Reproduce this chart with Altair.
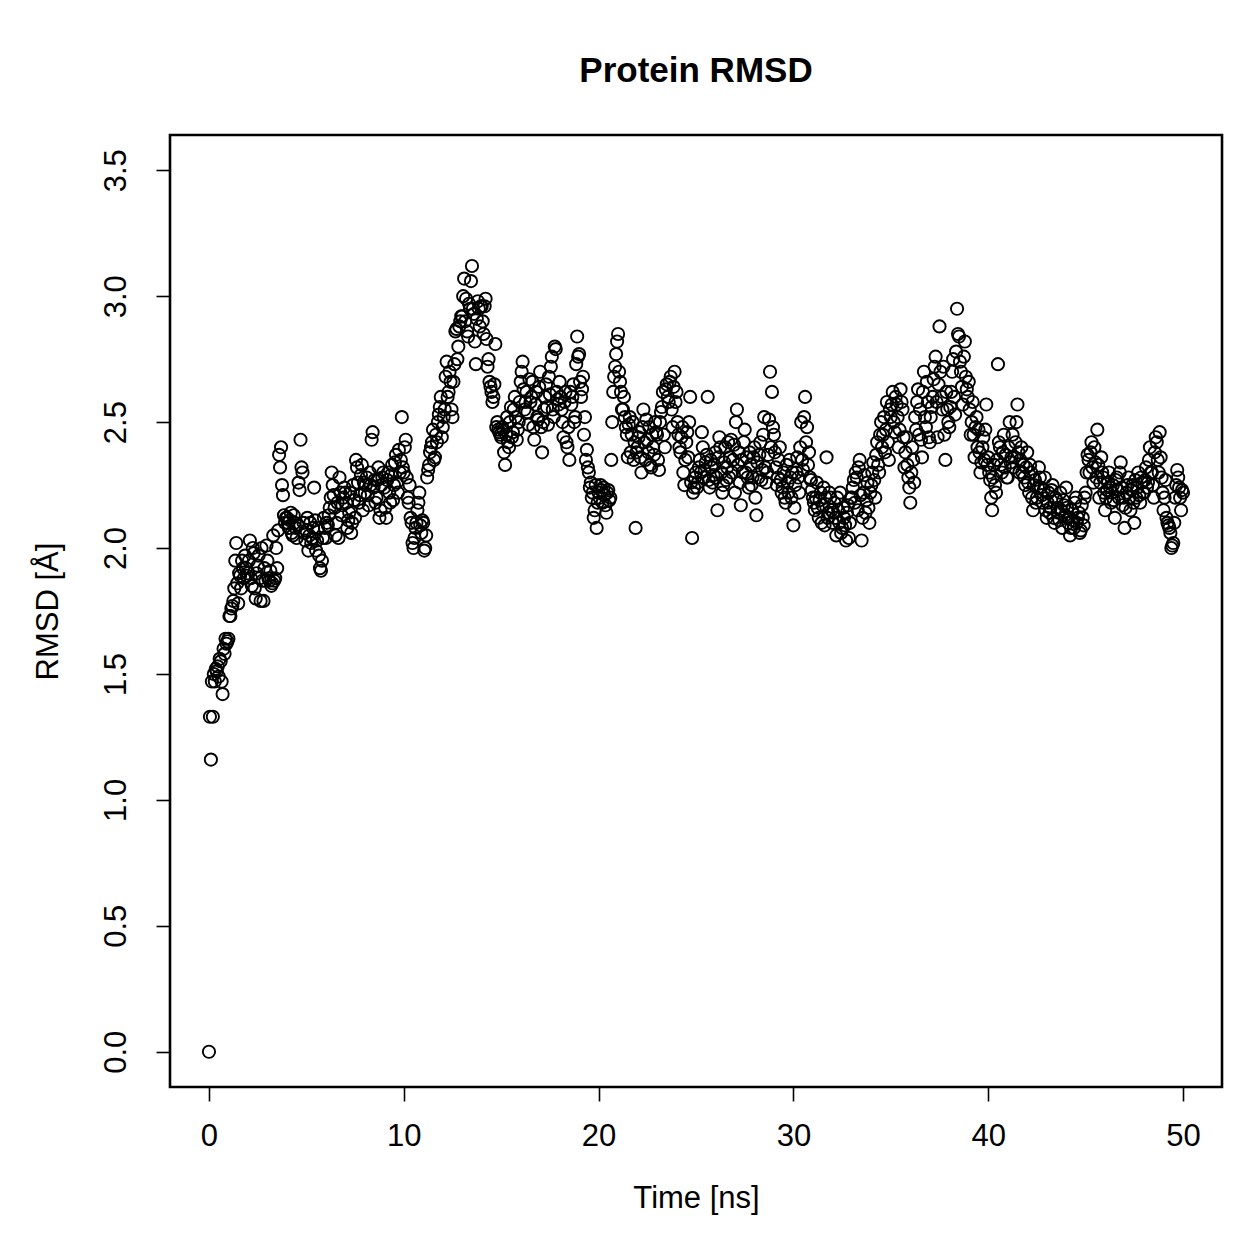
import altair as alt
import pandas as pd

# RMSD values (Å).
# rows_a: samples at t = k + 0.0, 0.1, ..., 0.9 ns ; rows_b: samples at t = k + 0.05, 0.15, ..., 0.95 ns
rows_a = [
    [0.00, 1.16, 1.33, 1.47, 1.51, 1.49, 1.55, 1.42, 1.58, 1.62],
    [1.64, 1.73, 1.77, 1.84, 2.02, 1.78, 1.89, 1.95, 1.88, 1.92],
    [1.90, 2.03, 1.85, 1.98, 1.80, 1.93, 1.88, 2.00, 1.79, 1.87],
    [1.95, 1.87, 1.85, 2.05, 1.88, 1.92, 2.37, 2.40, 2.21, 2.10],
    [2.12, 2.08, 2.14, 2.05, 2.10, 2.04, 2.26, 2.43, 2.30, 2.06],
    [2.07, 1.99, 2.10, 2.04, 2.24, 1.99, 2.08, 1.92, 1.95, 2.12],
    [2.04, 2.09, 2.16, 2.30, 2.21, 2.05, 2.18, 2.28, 2.13, 2.20],
    [2.22, 2.08, 2.14, 2.06, 2.25, 2.12, 2.32, 2.18, 2.29, 2.15],
    [2.22, 2.28, 2.17, 2.25, 2.46, 2.27, 2.20, 2.32, 2.15, 2.28],
    [2.24, 2.12, 2.30, 2.18, 2.33, 2.25, 2.37, 2.22, 2.30, 2.52],
    [2.30, 2.43, 2.20, 2.25, 2.10, 2.00, 2.08, 2.15, 2.22, 2.06],
    [2.10, 2.00, 2.28, 2.33, 2.40, 2.47, 2.36, 2.42, 2.53, 2.60],
    [2.48, 2.55, 2.74, 2.62, 2.66, 2.52, 2.73, 2.87, 2.80, 2.90],
    [2.92, 3.07, 2.99, 2.84, 2.95, 3.12, 2.93, 2.73, 2.98, 2.88],
    [2.96, 2.85, 2.99, 2.72, 2.66, 2.62, 2.60, 2.81, 2.50, 2.46],
    [2.44, 2.47, 2.33, 2.52, 2.40, 2.56, 2.46, 2.60, 2.43, 2.50],
    [2.66, 2.74, 2.55, 2.62, 2.49, 2.58, 2.66, 2.43, 2.62, 2.51],
    [2.70, 2.38, 2.55, 2.65, 2.49, 2.61, 2.76, 2.52, 2.79, 2.59],
    [2.66, 2.55, 2.44, 2.62, 2.40, 2.35, 2.57, 2.65, 2.52, 2.84],
    [2.77, 2.60, 2.68, 2.52, 2.39, 2.30, 2.26, 2.22, 2.15, 2.08],
    [2.22, 2.25, 2.18, 2.21, 2.14, 2.23, 2.20, 2.50, 2.68, 2.77],
    [2.85, 2.66, 2.55, 2.60, 2.48, 2.36, 2.52, 2.45, 2.35, 2.08],
    [2.40, 2.46, 2.30, 2.55, 2.35, 2.43, 2.48, 2.32, 2.40, 2.50],
    [2.45, 2.31, 2.54, 2.62, 2.40, 2.65, 2.58, 2.68, 2.48, 2.70],
    [2.62, 2.45, 2.38, 2.48, 2.25, 2.42, 2.36, 2.60, 2.04, 2.24],
    [2.30, 2.26, 2.35, 2.46, 2.28, 2.34, 2.60, 2.24, 2.32, 2.29],
    [2.38, 2.15, 2.44, 2.30, 2.25, 2.40, 2.32, 2.28, 2.43, 2.35],
    [2.22, 2.55, 2.38, 2.17, 2.30, 2.47, 2.36, 2.24, 2.33, 2.28],
    [2.40, 2.13, 2.28, 2.42, 2.31, 2.52, 2.26, 2.37, 2.70, 2.62],
    [2.45, 2.32, 2.28, 2.40, 2.22, 2.30, 2.18, 2.26, 2.35, 2.20],
    [2.09, 2.25, 2.36, 2.22, 2.50, 2.31, 2.60, 2.48, 2.38, 2.27],
    [2.20, 2.15, 2.26, 2.12, 2.22, 2.17, 2.09, 2.36, 2.14, 2.20],
    [2.10, 2.18, 2.05, 2.15, 2.22, 2.08, 2.12, 2.03, 2.17, 2.10],
    [2.20, 2.27, 2.30, 2.15, 2.35, 2.03, 2.22, 2.14, 2.26, 2.10],
    [2.25, 2.34, 2.20, 2.42, 2.30, 2.50, 2.45, 2.38, 2.58, 2.35],
    [2.52, 2.62, 2.46, 2.57, 2.40, 2.63, 2.55, 2.32, 2.44, 2.28],
    [2.18, 2.40, 2.26, 2.47, 2.63, 2.55, 2.36, 2.70, 2.48, 2.58],
    [2.42, 2.56, 2.67, 2.76, 2.44, 2.88, 2.60, 2.72, 2.35, 2.55],
    [2.48, 2.62, 2.75, 2.53, 2.95, 2.84, 2.70, 2.57, 2.82, 2.63],
    [2.66, 2.45, 2.58, 2.36, 2.52, 2.47, 2.30, 2.40, 2.35, 2.57],
    [2.36, 2.27, 2.15, 2.33, 2.22, 2.73, 2.40, 2.30, 2.45, 2.37],
    [2.28, 2.50, 2.36, 2.32, 2.42, 2.57, 2.30, 2.40, 2.33, 2.25],
    [2.38, 2.22, 2.30, 2.15, 2.27, 2.20, 2.32, 2.24, 2.18, 2.28],
    [2.12, 2.22, 2.16, 2.25, 2.10, 2.19, 2.14, 2.22, 2.08, 2.17],
    [2.24, 2.10, 2.05, 2.15, 2.08, 2.20, 2.12, 2.06, 2.17, 2.09],
    [2.22, 2.37, 2.30, 2.42, 2.26, 2.34, 2.47, 2.20, 2.36, 2.28],
    [2.15, 2.23, 2.30, 2.18, 2.25, 2.12, 2.28, 2.20, 2.34, 2.17],
    [2.08, 2.22, 2.28, 2.15, 2.25, 2.10, 2.20, 2.30, 2.18, 2.26],
    [2.22, 2.32, 2.26, 2.40, 2.30, 2.20, 2.44, 2.35, 2.46, 2.28],
    [2.15, 2.27, 2.10, 2.08, 2.00, 2.02, 2.20, 2.31, 2.24, 2.15],
    [2.22],
]

rows_b = [
    [1.33, 1.47, 1.50, 1.52, 1.53, 1.56, 1.47, 1.60, 1.64, 1.63],
    [1.73, 1.76, 1.79, 1.95, 1.86, 1.90, 1.84, 1.92, 1.97, 1.89],
    [1.95, 1.88, 2.00, 1.84, 1.90, 1.97, 1.79, 1.87, 1.92, 2.01],
    [1.88, 1.91, 1.86, 1.87, 2.00, 2.07, 2.32, 2.25, 2.13, 2.12],
    [2.10, 2.11, 2.06, 2.13, 2.08, 2.09, 2.23, 2.32, 2.10, 2.03],
    [2.12, 2.05, 2.02, 2.08, 2.11, 2.03, 1.97, 1.91, 2.04, 2.08],
    [2.10, 2.13, 2.20, 2.25, 2.16, 2.10, 2.04, 2.22, 2.17, 2.24],
    [2.18, 2.11, 2.22, 2.10, 2.19, 2.35, 2.26, 2.21, 2.33, 2.26],
    [2.25, 2.21, 2.30, 2.43, 2.24, 2.18, 2.27, 2.12, 2.25, 2.30],
    [2.16, 2.27, 2.22, 2.29, 2.19, 2.34, 2.26, 2.39, 2.35, 2.32],
    [2.40, 2.28, 2.18, 2.12, 2.02, 2.04, 2.10, 2.18, 2.09, 2.11],
    [1.99, 2.05, 2.31, 2.38, 2.42, 2.35, 2.45, 2.50, 2.56, 2.44],
    [2.52, 2.68, 2.60, 2.70, 2.55, 2.66, 2.86, 2.75, 2.88, 2.92],
    [3.00, 2.90, 2.86, 2.97, 3.06, 2.95, 2.82, 2.91, 2.95, 2.96],
    [2.90, 2.96, 2.83, 2.75, 2.64, 2.58, 2.65, 2.48, 2.47, 2.45],
    [2.48, 2.38, 2.45, 2.42, 2.50, 2.44, 2.55, 2.52, 2.47, 2.58],
    [2.70, 2.63, 2.58, 2.54, 2.67, 2.60, 2.48, 2.57, 2.52, 2.64],
    [2.48, 2.50, 2.60, 2.56, 2.68, 2.72, 2.55, 2.80, 2.62, 2.57],
    [2.60, 2.50, 2.58, 2.42, 2.48, 2.62, 2.60, 2.50, 2.73, 2.76],
    [2.66, 2.63, 2.45, 2.35, 2.32, 2.24, 2.20, 2.12, 2.25, 2.18],
    [2.20, 2.23, 2.24, 2.17, 2.22, 2.19, 2.35, 2.62, 2.72, 2.82],
    [2.70, 2.62, 2.55, 2.52, 2.45, 2.49, 2.38, 2.50, 2.42, 2.38],
    [2.44, 2.36, 2.48, 2.42, 2.51, 2.38, 2.33, 2.45, 2.37, 2.46],
    [2.35, 2.50, 2.56, 2.45, 2.63, 2.60, 2.66, 2.55, 2.64, 2.58],
    [2.50, 2.40, 2.44, 2.30, 2.35, 2.46, 2.50, 2.26, 2.22, 2.28],
    [2.24, 2.32, 2.30, 2.40, 2.31, 2.37, 2.27, 2.35, 2.26, 2.33],
    [2.28, 2.36, 2.40, 2.22, 2.34, 2.27, 2.42, 2.36, 2.30, 2.41],
    [2.50, 2.33, 2.26, 2.35, 2.42, 2.30, 2.28, 2.38, 2.25, 2.36],
    [2.20, 2.34, 2.37, 2.27, 2.45, 2.32, 2.30, 2.51, 2.40, 2.48],
    [2.38, 2.25, 2.35, 2.27, 2.24, 2.20, 2.33, 2.22, 2.28, 2.30],
    [2.16, 2.30, 2.28, 2.40, 2.35, 2.52, 2.42, 2.33, 2.28, 2.23],
    [2.18, 2.20, 2.16, 2.19, 2.10, 2.24, 2.20, 2.12, 2.22, 2.15],
    [2.14, 2.12, 2.20, 2.10, 2.06, 2.16, 2.09, 2.14, 2.04, 2.20],
    [2.24, 2.18, 2.28, 2.32, 2.21, 2.12, 2.29, 2.19, 2.16, 2.22],
    [2.30, 2.27, 2.37, 2.33, 2.45, 2.40, 2.52, 2.47, 2.42, 2.55],
    [2.57, 2.50, 2.60, 2.52, 2.47, 2.58, 2.44, 2.38, 2.33, 2.24],
    [2.30, 2.35, 2.52, 2.58, 2.45, 2.43, 2.62, 2.52, 2.66, 2.44],
    [2.52, 2.60, 2.72, 2.58, 2.65, 2.70, 2.55, 2.45, 2.62, 2.50],
    [2.56, 2.70, 2.60, 2.78, 2.85, 2.74, 2.64, 2.76, 2.68, 2.60],
    [2.55, 2.50, 2.45, 2.48, 2.40, 2.38, 2.34, 2.44, 2.47, 2.33],
    [2.30, 2.20, 2.28, 2.25, 2.35, 2.42, 2.33, 2.38, 2.32, 2.28],
    [2.40, 2.34, 2.45, 2.36, 2.50, 2.38, 2.35, 2.30, 2.28, 2.32],
    [2.26, 2.33, 2.20, 2.25, 2.18, 2.24, 2.28, 2.21, 2.23, 2.15],
    [2.18, 2.14, 2.23, 2.12, 2.20, 2.16, 2.11, 2.15, 2.19, 2.13],
    [2.16, 2.12, 2.08, 2.11, 2.18, 2.10, 2.14, 2.07, 2.12, 2.20],
    [2.30, 2.35, 2.38, 2.32, 2.40, 2.28, 2.33, 2.26, 2.30, 2.22],
    [2.20, 2.26, 2.24, 2.22, 2.19, 2.27, 2.23, 2.30, 2.24, 2.20],
    [2.16, 2.25, 2.20, 2.23, 2.18, 2.27, 2.24, 2.21, 2.28, 2.22],
    [2.27, 2.24, 2.35, 2.30, 2.25, 2.38, 2.42, 2.30, 2.36, 2.22],
    [2.20, 2.12, 2.09, 2.06, 2.01, 2.10, 2.25, 2.28, 2.20, 2.23],
]

x_ticks = [0, 10, 20, 30, 40, 50]
y_ticks = [0.0, 0.5, 1.0, 1.5, 2.0, 2.5, 3.0, 3.5]

records = []
for k, row in enumerate(rows_a):
    for j, v in enumerate(row):
        records.append({"time": k + j / 10, "rmsd": v})
for k, row in enumerate(rows_b):
    for j, v in enumerate(row):
        records.append({"time": k + j / 10 + 0.05, "rmsd": v})
df = pd.DataFrame(records)

font = "Liberation Sans"

chart = alt.Chart(df).mark_point(
    shape="circle", filled=False, color="black", size=150, strokeWidth=1.9, opacity=1
).encode(
    x=alt.X(
        "time:Q",
        scale=alt.Scale(domain=[-2, 52], nice=False, zero=False),
        axis=alt.Axis(
            values=x_ticks, format="d", title="Time [ns]", domain=False, grid=False,
            tickSize=14, tickWidth=1.6, tickColor="black",
            labelFontSize=31, labelFont=font, labelColor="black", labelPadding=20,
            titleFontSize=31, titleFont=font, titleFontWeight="normal", titleColor="black",
            titlePadding=32,
        ),
    ),
    y=alt.Y(
        "rmsd:Q",
        scale=alt.Scale(domain=[-0.14, 3.64], nice=False, zero=False),
        axis=alt.Axis(
            values=y_ticks, format=".1f", title="RMSD [Å]", domain=False, grid=False,
            tickSize=14, tickWidth=1.6, tickColor="black",
            labelAngle=270, labelAlign="center", labelBaseline="bottom",
            labelFontSize=31, labelFont=font, labelColor="black", labelPadding=24,
            titleFontSize=31, titleFont=font, titleFontWeight="normal", titleColor="black",
            titlePadding=36,
        ),
    ),
).properties(
    width=1052,
    height=952,
    background="white",
    title=alt.TitleParams(
        "Protein RMSD", font=font, fontSize=35, fontWeight="bold", color="black",
        anchor="middle", offset=46,
    ),
    autosize=alt.AutoSizeParams(type="none"),
    padding={"left": 170, "top": 135, "right": 37, "bottom": 172},
).configure_view(
    stroke="black", strokeWidth=2.6, strokeOpacity=1
)

chart.save("out.html", embed_options={"renderer": "svg", "actions": False})
